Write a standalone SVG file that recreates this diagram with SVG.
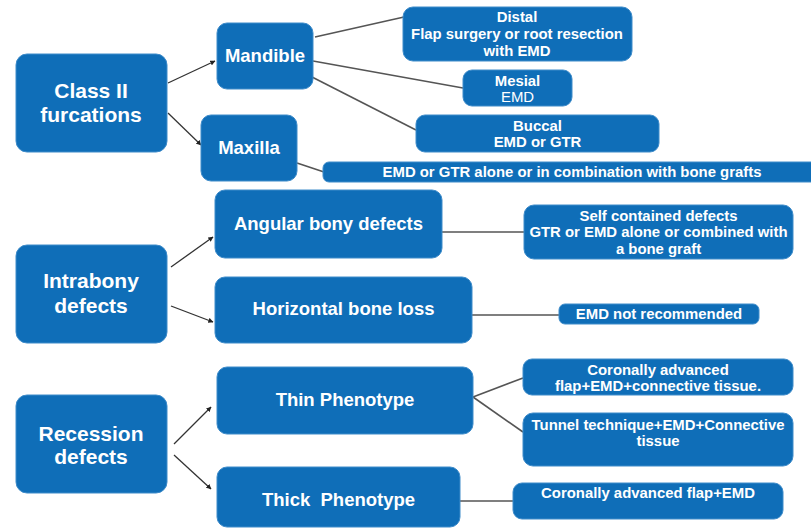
<svg xmlns="http://www.w3.org/2000/svg" width="811" height="528" viewBox="0 0 811 528">
<defs>
<marker id="ah" viewBox="0 0 10 10" refX="9" refY="5" markerWidth="4" markerHeight="4" orient="auto">
<path d="M0,0 L10,5 L0,10 z" fill="#222"/>
</marker>
<style>
.box{fill:#0f6eb8;stroke:#3f8cca;stroke-width:1}
.t{font-family:"Liberation Sans",Arial,sans-serif;font-weight:bold;fill:#fff;text-anchor:middle}
.l{font-size:21px}
.m{font-size:18.5px}
.s{font-size:14.9px}
.c{stroke:#555;stroke-width:1.6;fill:none}
.a{stroke:#333;stroke-width:1.3;fill:none;marker-end:url(#ah)}
</style>
</defs>
<rect width="811" height="528" fill="#fff"/>
<g id="connectors">
<line class="a" x1="168" y1="83" x2="215" y2="61"/>
<line class="a" x1="168" y1="113" x2="201" y2="145"/>
<line class="c" x1="315" y1="37" x2="404" y2="17"/>
<line class="c" x1="313" y1="61" x2="463" y2="88"/>
<line class="c" x1="312" y1="77" x2="416" y2="130"/>
<line class="c" x1="297" y1="163" x2="324" y2="172"/>
<line class="a" x1="171" y1="267" x2="213" y2="237"/>
<line class="a" x1="171" y1="306" x2="213" y2="322"/>
<line class="c" x1="442" y1="232" x2="524" y2="232"/>
<line class="c" x1="472" y1="315" x2="559" y2="315"/>
<line class="a" x1="174" y1="444" x2="211" y2="407"/>
<line class="a" x1="174" y1="455" x2="211" y2="489"/>
<line class="c" x1="473" y1="397" x2="523" y2="378"/>
<line class="c" x1="473" y1="397" x2="523" y2="432"/>
<line class="c" x1="460" y1="501" x2="513" y2="501"/>
</g>
<g id="class2">
<rect class="box" x="16" y="54" width="151" height="98" rx="11"/>
<text class="t l" x="91" y="98">Class II</text>
<text class="t l" x="91" y="122">furcations</text>
</g>
<g id="mandible">
<rect class="box" x="217" y="23" width="96" height="66" rx="10"/>
<text class="t m" x="265" y="62">Mandible</text>
</g>
<g id="maxilla">
<rect class="box" x="201" y="115" width="96" height="66" rx="10"/>
<text class="t m" x="249" y="154">Maxilla</text>
</g>
<g id="distal">
<rect class="box" x="403" y="7" width="229" height="54" rx="10"/>
<text class="t s" x="517" y="22">Distal</text>
<text class="t s" x="517" y="39">Flap surgery or root resection</text>
<text class="t s" x="517" y="56">with EMD</text>
</g>
<g id="mesial">
<rect class="box" x="463" y="70" width="109" height="36" rx="9"/>
<text class="t s" x="517.5" y="86">Mesial</text>
<text class="t s" x="517.5" y="102" style="font-weight:normal">EMD</text>
</g>
<g id="buccal">
<rect class="box" x="416" y="115" width="243" height="37" rx="9"/>
<text class="t s" x="537.5" y="131">Buccal</text>
<text class="t s" x="537.5" y="147">EMD or GTR</text>
</g>
<g id="maxilla-treatment">
<rect class="box" x="323" y="162" width="500" height="20" rx="6"/>
<text class="t s" x="572" y="177">EMD or GTR alone or in combination with bone grafts</text>
</g>
<g id="intrabony">
<rect class="box" x="16" y="245" width="151" height="98" rx="11"/>
<text class="t l" x="91" y="288">Intrabony</text>
<text class="t l" x="91" y="313">defects</text>
</g>
<g id="angular">
<rect class="box" x="215" y="190" width="227" height="68" rx="10"/>
<text class="t m" x="328.5" y="230">Angular bony defects</text>
</g>
<g id="horizontal">
<rect class="box" x="215" y="277" width="257" height="66" rx="10"/>
<text class="t m" x="343.5" y="315">Horizontal bone loss</text>
</g>
<g id="selfcontained">
<rect class="box" x="524" y="205" width="269" height="54" rx="10"/>
<text class="t s" x="658.5" y="221">Self contained defects</text>
<text class="t s" x="658.5" y="237">GTR or EMD alone or combined with</text>
<text class="t s" x="658.5" y="254">a bone graft</text>
</g>
<g id="emdnot">
<rect class="box" x="559" y="304" width="200" height="20" rx="6"/>
<text class="t s" x="659" y="319">EMD not recommended</text>
</g>
<g id="recession">
<rect class="box" x="16" y="395" width="151" height="98" rx="11"/>
<text class="t l" x="91" y="441">Recession</text>
<text class="t l" x="91" y="464">defects</text>
</g>
<g id="thin">
<rect class="box" x="217" y="367" width="256" height="67" rx="10"/>
<text class="t m" x="345" y="406">Thin Phenotype</text>
</g>
<g id="thick">
<rect class="box" x="217" y="467" width="243" height="60" rx="10"/>
<text class="t m" x="338.5" y="506" xml:space="preserve">Thick  Phenotype</text>
</g>
<g id="coronal-ct">
<rect class="box" x="523" y="359" width="270" height="36" rx="9"/>
<text class="t s" x="658" y="375">Coronally advanced</text>
<text class="t s" x="658" y="391">flap+EMD+connective tissue.</text>
</g>
<g id="tunnel">
<rect class="box" x="523" y="413" width="270" height="53" rx="10"/>
<text class="t s" x="658" y="430">Tunnel technique+EMD+Connective</text>
<text class="t s" x="658" y="446">tissue</text>
</g>
<g id="coronal-emd">
<rect class="box" x="513" y="483" width="270" height="36" rx="9"/>
<text class="t s" x="648" y="498">Coronally advanced flap+EMD</text>
</g>
</svg>
